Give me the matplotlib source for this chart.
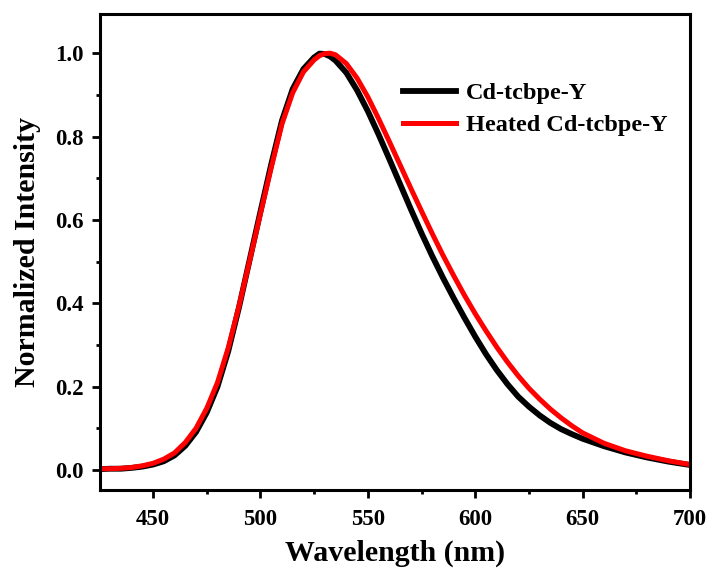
import numpy as np
import matplotlib

matplotlib.use("Agg")

import matplotlib.pyplot as plt
from matplotlib.ticker import MultipleLocator

# wavelength grid (nm) and normalized PL intensities
wavelength = [425, 430, 435, 440, 445, 450, 455, 460, 465, 470, 475, 480, 485,
              490, 495, 500, 505, 510, 515, 520, 525, 527.5, 530, 532.5, 535,
              540, 545, 550, 555, 560, 565, 570, 575, 580, 585, 590, 595, 600,
              605, 610, 615, 620, 625, 630, 635, 640, 645, 650, 660, 670, 680,
              690, 700]

cd_tcbpe = [0.002, 0.003, 0.003, 0.005, 0.008, 0.013, 0.021, 0.035, 0.058,
            0.091, 0.138, 0.200, 0.285, 0.390, 0.505, 0.620, 0.733, 0.838,
            0.914, 0.962, 0.990, 0.999, 0.998, 0.992, 0.982, 0.953, 0.911,
            0.861, 0.805, 0.746, 0.686, 0.626, 0.568, 0.513, 0.461, 0.412,
            0.365, 0.320, 0.278, 0.240, 0.206, 0.176, 0.152, 0.131, 0.113,
            0.098, 0.086, 0.075, 0.057, 0.042, 0.030, 0.020, 0.012]

heated = [0.003, 0.003, 0.004, 0.006, 0.010, 0.016, 0.026, 0.041, 0.066,
          0.100, 0.148, 0.210, 0.293, 0.393, 0.503, 0.615, 0.725, 0.830,
          0.905, 0.955, 0.984, 0.994, 0.999, 1.000, 0.996, 0.975, 0.940,
          0.895, 0.843, 0.788, 0.732, 0.676, 0.621, 0.567, 0.515, 0.466,
          0.419, 0.375, 0.334, 0.295, 0.259, 0.226, 0.196, 0.170, 0.146,
          0.125, 0.106, 0.089, 0.064, 0.046, 0.033, 0.022, 0.013]

labels = ["Cd-tcbpe-Y", "Heated Cd-tcbpe-Y"]

plt.rcParams["font.family"] = ["Liberation Serif", "DejaVu Serif"]
plt.rcParams["font.weight"] = "bold"

fig = plt.figure(figsize=(7.13, 5.72), dpi=100)
ax = fig.add_axes([0.1403, 0.1434, 0.8274, 0.8321])

ax.plot(wavelength, cd_tcbpe, color="black", lw=4.2, label=labels[0],
        solid_joinstyle="round")
ax.plot(wavelength, heated, color="#ff0000", lw=3.6, label=labels[1],
        solid_joinstyle="round")

ax.set_xlim(425.3, 700)
ax.set_ylim(-0.048, 1.094)
ax.xaxis.set_major_locator(MultipleLocator(50))
ax.xaxis.set_minor_locator(MultipleLocator(25))
ax.yaxis.set_major_locator(MultipleLocator(0.2))
ax.yaxis.set_minor_locator(MultipleLocator(0.1))

for s in ax.spines.values():
    s.set_linewidth(2.2)
ax.tick_params(which="major", direction="out", length=6, width=2,
               labelsize=16.5, pad=6)
ax.tick_params(axis="x", which="major", pad=8)
ax.tick_params(which="minor", direction="out", length=3, width=2)
for lab in ax.get_xticklabels() + ax.get_yticklabels():
    lab.set_fontweight("bold")

ax.set_xlabel("Wavelength (nm)", fontsize=21.5, fontweight="bold", labelpad=7)
ax.set_ylabel("Normalized Intensity", fontsize=21.5, fontweight="bold", labelpad=10)

ax.legend(loc="upper left", bbox_to_anchor=(0.513, 0.857), frameon=False,
          prop={"size": 17.5, "weight": "bold"}, handlelength=2.2,
          handletextpad=0.42, labelspacing=0.42, borderpad=0, borderaxespad=0)

fig.savefig("out.png", dpi=100)
